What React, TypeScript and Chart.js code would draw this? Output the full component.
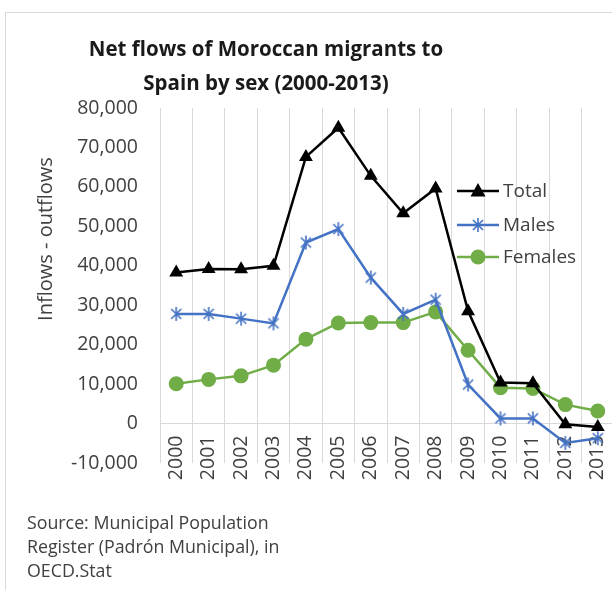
import React, { useEffect, useRef } from 'react';
import { Chart, registerables } from 'chart.js';

Chart.register(...registerables);

const years = ['2000', '2001', '2002', '2003', '2004', '2005', '2006', '2007', '2008', '2009', '2010', '2011', '2012', '2013'];
const totalValues = [38300, 39200, 39100, 40000, 67600, 75000, 62800, 53300, 59600, 28500, 10400, 10200, -200, -900];
const maleValues = [27800, 27800, 26600, 25400, 45900, 49300, 37000, 27800, 31400, 9900, 1300, 1300, -4900, -3700];
const femaleValues = [10100, 11200, 12100, 14800, 21400, 25500, 25600, 25600, 28300, 18600, 9100, 8900, 4800, 3200];
const seriesNames = ['Total', 'Males', 'Females'];
const yAxisTitle = 'Inflows - outflows';
const yMin = -10000;
const yMax = 80000;
const yStep = 10000;

const FONT = "'Open Sans', sans-serif";
const TEXT = '#404040';
const BLACK = '#000000';
const BLUE = '#4472C4';
const GREEN = '#70AD47';

function drawStar(ctx: CanvasRenderingContext2D, x: number, y: number, r: number, color: string) {
  ctx.save();
  ctx.strokeStyle = color;
  ctx.lineWidth = 1.6;
  ctx.beginPath();
  const d = r * 0.72;
  ctx.moveTo(x - d, y - d); ctx.lineTo(x + d, y + d);
  ctx.moveTo(x + d, y - d); ctx.lineTo(x - d, y + d);
  ctx.moveTo(x, y - r); ctx.lineTo(x, y + r);
  ctx.stroke();
  ctx.restore();
}

function makeStarImage(color: string) {
  const c = document.createElement('canvas');
  c.width = 16; c.height = 16;
  const ctx = c.getContext('2d')!;
  drawStar(ctx, 8, 8, 7, color);
  return c;
}

function drawMarker(ctx: CanvasRenderingContext2D, kind: string, x: number, y: number, color: string) {
  ctx.save();
  ctx.fillStyle = color;
  if (kind === 'triangle') {
    ctx.beginPath();
    ctx.moveTo(x, y - 8);
    ctx.lineTo(x + 7.5, y + 5.5);
    ctx.lineTo(x - 7.5, y + 5.5);
    ctx.closePath();
    ctx.fill();
  } else if (kind === 'circle') {
    ctx.beginPath();
    ctx.arc(x, y, 7.5, 0, Math.PI * 2);
    ctx.fill();
  } else {
    drawStar(ctx, x, y, 7, color);
  }
  ctx.restore();
}

const decorPlugin = {
  id: 'decor',
  afterDraw(chart: any) {
    const ctx = chart.ctx as CanvasRenderingContext2D;
    const kinds = ['triangle', 'star', 'circle'];
    const colors = [BLACK, BLUE, GREEN];
    const rows = [191, 225, 257];
    ctx.save();
    seriesNames.forEach((name, i) => {
      const y = rows[i];
      ctx.strokeStyle = colors[i];
      ctx.lineWidth = 2.5;
      ctx.beginPath();
      ctx.moveTo(457, y);
      ctx.lineTo(499, y);
      ctx.stroke();
      drawMarker(ctx, kinds[i], 478, y, colors[i]);
      ctx.fillStyle = TEXT;
      ctx.font = `19px ${FONT}`;
      ctx.textBaseline = 'middle';
      ctx.textAlign = 'left';
      ctx.fillText(name, 503, y + 1);
    });
    // y axis title
    ctx.translate(46, 239);
    ctx.rotate(-Math.PI / 2);
    ctx.fillStyle = TEXT;
    ctx.font = `20px ${FONT}`;
    ctx.textAlign = 'center';
    ctx.textBaseline = 'middle';
    ctx.fillText(yAxisTitle, 0, 0);
    ctx.restore();
  },
};

export default function App() {
  const ref = useRef<HTMLCanvasElement>(null);
  useEffect(() => {
    const canvas = ref.current!;
    const chart = new Chart(canvas, {
      type: 'line',
      data: {
        labels: years,
        datasets: [
          {
            label: seriesNames[0], data: totalValues, borderColor: BLACK, backgroundColor: BLACK,
            borderWidth: 2.5, pointStyle: 'triangle', pointRadius: 8, pointBorderWidth: 0, tension: 0,
          },
          {
            label: seriesNames[1], data: maleValues, borderColor: BLUE, backgroundColor: BLUE,
            borderWidth: 2.5, pointStyle: makeStarImage(BLUE) as any, pointRadius: 8, tension: 0,
          },
          {
            label: seriesNames[2], data: femaleValues, borderColor: GREEN, backgroundColor: GREEN,
            borderWidth: 2.5, pointStyle: 'circle', pointRadius: 7.5, pointBorderWidth: 0, tension: 0,
          },
        ],
      },
      options: {
        responsive: false,
        animation: false,
        devicePixelRatio: 1,
        layout: { padding: { left: 0, right: 26, top: 108, bottom: 127 } },
        plugins: { legend: { display: false }, tooltip: { enabled: false }, title: { display: false } },
        scales: {
          x: {
            type: 'category',
            offset: true,
            position: { y: 0 } as any,
            grid: { offset: true, color: '#d9d9d9', lineWidth: 1, drawTicks: false },
            border: { display: true, color: '#d9d9d9', width: 1 },
            ticks: {
              autoSkip: false, minRotation: 90, maxRotation: 90, padding: 12,
              color: TEXT, font: { family: FONT, size: 19.5 },
            },
          },
          y: {
            position: 'left',
            min: yMin,
            max: yMax,
            afterFit: (s: any) => { s.width = 160; },
            ticks: {
              stepSize: yStep, padding: 22, color: TEXT, font: { family: FONT, size: 19.5 },
              callback: (v: any) => Number(v).toLocaleString('en-US'),
            },
            grid: { display: false, drawTicks: false },
            border: { display: false },
          },
        },
      },
      plugins: [decorPlugin],
    });
    return () => chart.destroy();
  }, []);

  return (
    <div style={{ position: 'fixed', left: 0, top: 0, width: 612, height: 590, overflow: 'hidden', background: '#fff' }}>
      <div style={{ position: 'absolute', left: 5, top: 12, width: 700, height: 700, borderLeft: '1px solid #d9d9d9', borderTop: '1px solid #d9d9d9' }} />
      <canvas ref={ref} width={640} height={590} style={{ position: 'absolute', left: 0, top: 0, width: 640, height: 590 }} />
      <div style={{ position: 'absolute', left: 0, top: 31, width: 532, textAlign: 'center', fontFamily: FONT, fontWeight: 700, fontSize: 20.5, lineHeight: '34px', color: '#1a1a1a' }}>
        Net flows of Moroccan migrants to<br />Spain by sex (2000-2013)
      </div>
      <div style={{ position: 'absolute', left: 27, top: 510, fontFamily: FONT, fontSize: 17.8, lineHeight: '24px', color: TEXT }}>
        Source: Municipal Population<br />Register (Padrón Municipal), in<br />OECD.Stat
      </div>
    </div>
  );
}
